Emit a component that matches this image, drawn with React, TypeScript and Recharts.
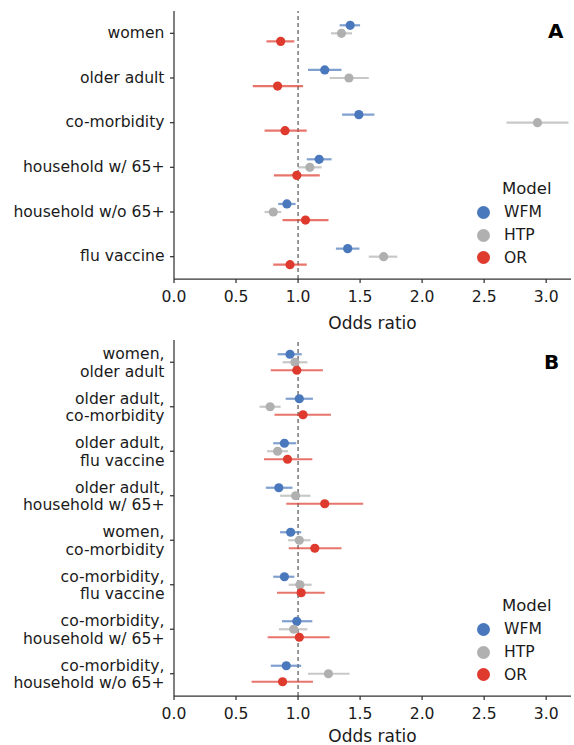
import React from 'react';
import { ScatterChart, Scatter, XAxis, YAxis, ErrorBar, ReferenceLine, Legend } from 'recharts';

const FONT = '"DejaVu Sans", sans-serif';

// Panel A: single factors
const singleLabels = ['women', 'older adult', 'co-morbidity', 'household w/ 65+', 'household w/o 65+', 'flu vaccine'];
const wfmSingle = [1.42, 1.215, 1.49, 1.17, 0.91, 1.4];
const wfmSingleLow = [1.335, 1.08, 1.355, 1.07, 0.84, 1.305];
const wfmSingleHigh = [1.5, 1.35, 1.615, 1.27, 0.98, 1.495];
const htpSingle = [1.35, 1.41, 2.93, 1.095, 0.8, 1.69];
const htpSingleLow = [1.265, 1.255, 2.68, 1.0, 0.73, 1.57];
const htpSingleHigh = [1.435, 1.57, 3.18, 1.19, 0.865, 1.8];
const orSingle = [0.86, 0.835, 0.895, 0.99, 1.06, 0.935];
const orSingleLow = [0.745, 0.635, 0.73, 0.805, 0.875, 0.8];
const orSingleHigh = [0.97, 1.04, 1.07, 1.175, 1.245, 1.07];

// Panel B: pairs of factors
const pairLabels = [
  'women,\nolder adult',
  'older adult,\nco-morbidity',
  'older adult,\nflu vaccine',
  'older adult,\nhousehold w/ 65+',
  'women,\nco-morbidity',
  'co-morbidity,\nflu vaccine',
  'co-morbidity,\nhousehold w/ 65+',
  'co-morbidity,\nhousehold w/o 65+',
];
const wfmPair = [0.935, 1.01, 0.89, 0.845, 0.94, 0.89, 0.99, 0.905];
const wfmPairLow = [0.835, 0.9, 0.8, 0.74, 0.855, 0.8, 0.87, 0.78];
const wfmPairHigh = [1.03, 1.12, 0.985, 0.955, 1.025, 0.97, 1.115, 1.025];
const htpPair = [0.975, 0.775, 0.835, 0.98, 1.01, 1.015, 0.965, 1.245];
const htpPairLow = [0.875, 0.69, 0.75, 0.855, 0.92, 0.925, 0.845, 1.08];
const htpPairHigh = [1.075, 0.86, 0.92, 1.1, 1.1, 1.11, 1.075, 1.415];
const orPair = [0.99, 1.04, 0.915, 1.215, 1.135, 1.025, 1.01, 0.875];
const orPairLow = [0.78, 0.81, 0.725, 0.905, 0.925, 0.83, 0.755, 0.625];
const orPairHigh = [1.2, 1.265, 1.115, 1.525, 1.35, 1.215, 1.255, 1.12];

const xTicks = [0, 0.5, 1, 1.5, 2, 2.5, 3];

const models = [
  { name: 'WFM', color: '#4a78bc', bar: 'rgba(74,120,188,0.7)', offset: -0.18 },
  { name: 'HTP', color: '#b0b0b0', bar: 'rgba(176,176,176,0.7)', offset: 0 },
  { name: 'OR', color: '#de3a2e', bar: 'rgba(222,58,46,0.7)', offset: 0.18 },
];

function buildRows(est: number[], low: number[], high: number[], offset: number) {
  return est.map((v, i) => ({ x: v, y: i + offset, err: [v - low[i], high[i] - v] }));
}

function CatTick(props: any) {
  const { x, y, payload, labels } = props;
  const lines: string[] = (labels[payload.value] ?? '').split('\n');
  return (
    <text x={x} y={y} textAnchor="end" fontSize={15.6} fill="#1a1a1a" fontFamily={FONT}>
      {lines.map((l, i) => (
        <tspan key={i} x={x} dy={i === 0 ? (lines.length === 1 ? 4.5 : -3) : 17.5}>
          {l}
        </tspan>
      ))}
    </text>
  );
}

function ModelLegend() {
  return (
    <div style={{ fontFamily: FONT, color: '#1a1a1a', width: 100 }}>
      <div style={{ fontSize: 16.5, marginLeft: 31, height: 24, lineHeight: '24px' }}>Model</div>
      {models.map((m) => (
        <div key={m.name} style={{ display: 'flex', alignItems: 'center', height: 22.7 }}>
          <span
            style={{ display: 'inline-block', width: 13, height: 13, borderRadius: '50%', background: m.color, marginLeft: 6, marginRight: 14 }}
          />
          <span style={{ fontSize: 15.6 }}>{m.name}</span>
        </div>
      ))}
    </div>
  );
}

interface PanelProps {
  labels: string[];
  series: { est: number[]; low: number[]; high: number[] }[];
  height: number;
  marginTop: number;
  xAxisHeight: number;
  labelOffset: number;
  legendTop: number;
}

function Panel({ labels, series, height, marginTop, xAxisHeight, labelOffset, legendTop }: PanelProps) {
  const n = labels.length;
  return (
    <ScatterChart width={574} height={height} margin={{ top: marginTop, right: 3, left: 0, bottom: 0 }}>
      <XAxis
        type="number"
        dataKey="x"
        domain={[0, 3.2]}
        ticks={xTicks}
        tickFormatter={(v: number) => v.toFixed(1)}
        allowDataOverflow
        height={xAxisHeight}
        tickSize={4}
        tickMargin={8}
        stroke="#333"
        strokeWidth={1.25}
        tick={{ fontSize: 15.6, fill: '#1a1a1a', fontFamily: FONT }}
        label={{ value: 'Odds ratio', position: 'insideBottom', offset: labelOffset, fontSize: 17, fill: '#1a1a1a', fontFamily: FONT }}
      />
      <YAxis
        type="number"
        dataKey="y"
        domain={[-0.5, n - 0.5]}
        ticks={labels.map((_, i) => i)}
        reversed
        width={174}
        tickSize={4}
        tickMargin={5.5}
        stroke="#333"
        strokeWidth={1.25}
        interval={0}
        tick={<CatTick labels={labels} />}
      />
      <ReferenceLine x={1} stroke="#555" strokeWidth={1.2} strokeDasharray="4 3" />
      {models.map((m, k) => (
        <Scatter
          key={m.name}
          name={m.name}
          data={buildRows(series[k].est, series[k].low, series[k].high, m.offset)}
          isAnimationActive={false}
          shape={(p: any) => <circle cx={p.cx} cy={p.cy} r={4.6} fill={m.color} />}
        >
          <ErrorBar dataKey="err" direction="x" width={0} stroke={m.bar} strokeWidth={2.2} />
        </Scatter>
      ))}
      <Legend
        layout="horizontal"
        verticalAlign="middle"
        content={() => <ModelLegend />}
        wrapperStyle={{ position: 'absolute', left: 471, top: legendTop, width: 100 }}
      />
    </ScatterChart>
  );
}

export default function App() {
  const seriesA = [
    { est: wfmSingle, low: wfmSingleLow, high: wfmSingleHigh },
    { est: htpSingle, low: htpSingleLow, high: htpSingleHigh },
    { est: orSingle, low: orSingleLow, high: orSingleHigh },
  ];
  const seriesB = [
    { est: wfmPair, low: wfmPairLow, high: wfmPairHigh },
    { est: htpPair, low: htpPairLow, high: htpPairHigh },
    { est: orPair, low: orPairLow, high: orPairHigh },
  ];
  return (
    <div style={{ position: 'absolute', left: 0, top: 0, width: 574, height: 745, background: '#fff', fontFamily: FONT }}>
      <div style={{ position: 'absolute', left: 0, top: 0 }}>
        <Panel labels={singleLabels} series={seriesA} height={335} marginTop={11} xAxisHeight={56} labelOffset={6} legendTop={177} />
      </div>
      <div style={{ position: 'absolute', left: 0, top: 330 }}>
        <Panel labels={pairLabels} series={seriesB} height={415} marginTop={10} xAxisHeight={49} labelOffset={3} legendTop={264} />
      </div>
      <div style={{ position: 'absolute', left: 548, top: 19, fontSize: 20, fontWeight: 'bold' }}>A</div>
      <div style={{ position: 'absolute', left: 544, top: 350, fontSize: 20, fontWeight: 'bold' }}>B</div>
    </div>
  );
}
